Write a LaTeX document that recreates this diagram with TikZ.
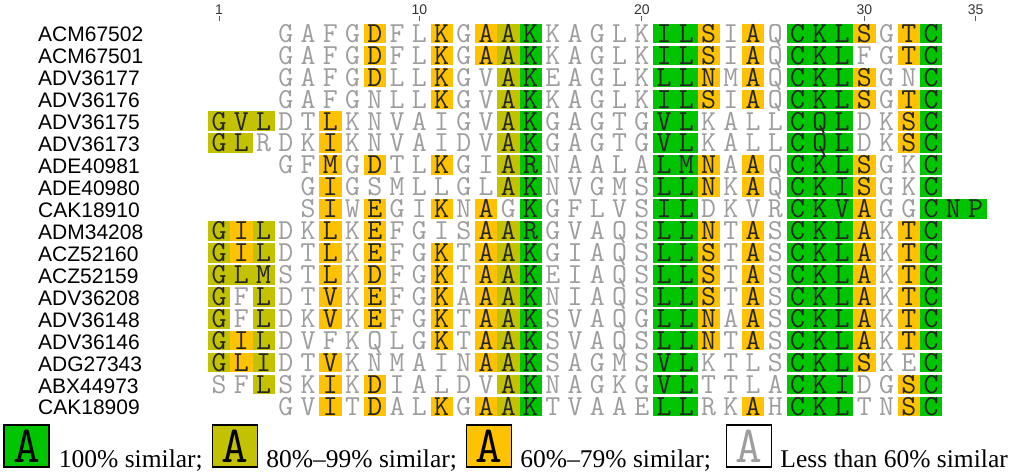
\documentclass[tikz,border=0pt]{standalone}
\usepackage{fontspec}
\usepackage{xstring}
\usetikzlibrary{positioning}
\newfontfamily\labelfont{Liberation Sans}
\newfontfamily\legendfont{Liberation Serif}

\definecolor{fillg}{RGB}{0,196,0}
\definecolor{fillo}{RGB}{194,194,0}
\definecolor{filly}{RGB}{255,194,0}
\definecolor{filln}{RGB}{255,255,255}
\colorlet{txtg}{black!85}
\colorlet{txto}{black!85}
\colorlet{txty}{black!85}
\colorlet{txtn}{black!38}

% one alignment row: row number, accession, first column, residues, similarity codes
\newcommand{\alnrow}[5]{%
  \node[seqname] (name#1) at (38,{11.56+21.94*#1+8.5}) {#2};
  \StrLen{#4}[\rowlen]
  \foreach \k in {1,...,\rowlen}{
    \StrChar{#4}{\k}[\resid]
    \StrChar{#5}{\k}[\simcode]
    \edef\fillcol{fill\simcode}
    \edef\textcol{txt\simcode}
    \pgfmathsetmacro{\cx}{196.875+22.25*(#3+\k-1)}
    \pgfmathsetmacro{\cy}{11.56+21.94*#1}
    \fill[fill=\fillcol] (\cx-11.125,\cy-9.8) rectangle (\cx+11.125,\cy+9.8);
    \node[residue, text=\textcol] (res#1-\k) at (\cx,\cy+8.8) {\resid};
  }}

\begin{document}
\begin{tikzpicture}[
    x=1pt, y=-1pt,
    seqname/.style={anchor=base west, inner sep=0pt, font=\labelfont\fontsize{21}{24}\selectfont},
    residue/.style={anchor=base, inner sep=0pt, font=\ttfamily\fontsize{29}{30}\selectfont},
    ticknum/.style={anchor=base, inner sep=0pt, text=black!80, font=\labelfont\fontsize{14}{16}\selectfont},
    tickmark/.style={draw=black!65, line width=1pt},
    legbox/.style={draw, line width=1.5pt, minimum width=45pt, minimum height=42pt, inner sep=0pt,
      font=\ttfamily\fontsize{52}{52}\selectfont},
    legtext/.style={anchor=base west, inner sep=0pt, font=\legendfont\fontsize{25.5}{30}\selectfont},
  ]
  \useasboundingbox (0,0) rectangle (1024,473);

  % column ruler
  \foreach \c in {1,10,20,30,35}{
    \node[ticknum] (tick\c) at ({196.875+22.25*\c},15) {\c};
    \draw[tickmark] ({196.875+22.25*\c},16.5) -- ({196.875+22.25*\c},21);
  }

  % alignment
  \alnrow{1}{ACM67502}{4}{GAFGDFLKGAAKKAGLKILSIAQCKLSGTC}{nnnnynnynyognnnnnggynyngggynyg}
  \alnrow{2}{ACM67501}{4}{GAFGDFLKGAAKKAGLKILSIAQCKLFGTC}{nnnnynnynyognnnnnggynyngggnnyg}
  \alnrow{3}{ADV36177}{4}{GAFGDLLKGVAKEAGLKLLNMAQCKLSGNC}{nnnnynnynnognnnnnggynyngggynng}
  \alnrow{4}{ADV36176}{4}{GAFGNLLKGVAKKAGLKILSIAQCKLSGTC}{nnnnnnnynnognnnnnggynyngggynyg}
  \alnrow{5}{ADV36175}{1}{GVLDTLKNVAIGVAKGAGTGVLKALLCQLDKSC}{ooonnynnnnnnnognnnnnggnnnngggnnyg}
  \alnrow{6}{ADV36173}{1}{GLRDKIKNVAIDVAKGAGTGVLKALLCQLDKSC}{oonnnynnnnnnnognnnnnggnnnngggnnyg}
  \alnrow{7}{ADE40981}{4}{GFMGDTLKGIARNAALALMNAAQCKLSGKC}{nnynynnynnognnnnnggynyngggynng}
  \alnrow{8}{ADE40980}{5}{GIGSMLLGLAKNVGMSLLNKAQCKISGKC}{nynnnnnnnognnnnnggynyngggynng}
  \alnrow{9}{CAK18910}{5}{SIWEGIKNAGKGFLVSILDKVRCKVAGGCNP}{nynynnynyngnnnnnggnnnngggynnggg}
  \alnrow{10}{ADM34208}{1}{GILDKLKEFGISAARGVAQSLLNTASCKLAKTC}{oyonnynynnnnyognnnnnggynyngggynyg}
  \alnrow{11}{ACZ52160}{1}{GILDTLKEFGKTAAKGIAQSLLSTASCKLAKTC}{oyonnynynnynyognnnnnggynyngggynyg}
  \alnrow{12}{ACZ52159}{1}{GLMSTLKDFGKTAAKEIAQSLLSTASCKLAKTC}{ooonnynynnynyognnnnnggynyngggynyg}
  \alnrow{13}{ADV36208}{1}{GFLDTVKEFGKAAAKNIAQSLLSTASCKLAKTC}{ononnynynnynyognnnnnggynyngggynyg}
  \alnrow{14}{ADV36148}{1}{GFLDKVKEFGKTAAKSVAQGLLNAASCKLAKTC}{ononnynynnynyognnnnnggynyngggynyg}
  \alnrow{15}{ADV36146}{1}{GILDVFKQLGKTAAKSVAQSLLNTASCKLAKTC}{oyonnnnnnnynyognnnnnggynyngggynyg}
  \alnrow{16}{ADG27343}{1}{GLIDTVKNMAINAAKSAGMSVLKTLSCKLSKEC}{oyonnynnnnnnyognnnnnggnnnngggynng}
  \alnrow{17}{ABX44973}{1}{SFLSKIKDIALDVAKNAGKGVLTTLACKIDGSC}{nnonnynynnnnnognnnnnggnnnngggnnyg}
  \alnrow{18}{CAK18909}{4}{GVITDALKGAAKTVAAELLRKAHCKLTNSC}{nnynynnynyognnnnnggnnyngggnnyg}

  % legend
  \node[legbox, fill=fillg] (keyg) at (26.5,446) {A};
  \node[legtext, right=9pt of keyg.south east, anchor=base west] (txtg) {100\% similar;};
  \node[legbox, fill=fillo] (keyo) at (235,446) {A};
  \node[legtext, right=8pt of keyo.south east, anchor=base west] (txto) {80\%–99\% similar;};
  \node[legbox, fill=filly] (keyy) at (489,446) {A};
  \node[legtext, right=8pt of keyy.south east, anchor=base west] (txty) {60\%–79\% similar;};
  \node[legbox, fill=white, text=txtn] (keyn) at (749,446) {A};
  \node[legtext, right=8pt of keyn.south east, anchor=base west] (txtn) {Less than 60\% similar};
\end{tikzpicture}
\end{document}
